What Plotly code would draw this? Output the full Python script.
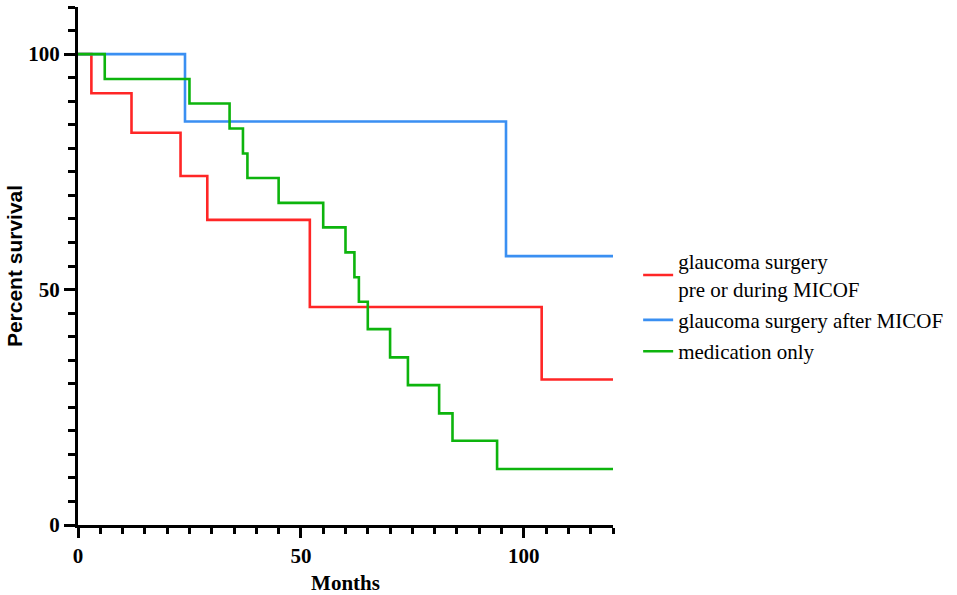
import plotly.graph_objects as go

# Kaplan-Meier step points (month, percent survival)
red_months = [0, 3, 12, 23, 29, 52, 104, 120]
red_surv = [100, 91.7, 83.3, 74.1, 64.8, 46.3, 30.9, 30.9]

blue_months = [0, 24, 96, 120]
blue_surv = [100, 85.7, 57.1, 57.1]

green_months = [0, 6, 25, 34, 37, 38, 45, 55, 60, 62, 63, 65, 70, 74, 81, 84, 94, 120]
green_surv = [100, 94.7, 89.5, 84.2, 78.9, 73.7, 68.4, 63.2, 57.9, 52.6, 47.4,
              41.6, 35.6, 29.7, 23.7, 17.9, 11.9, 11.9]

names = ["glaucoma surgery<br>pre or during MICOF",
         "glaucoma surgery after MICOF",
         "medication only"]
colors = ["#FF2626", "#3A8FF2", "#0DB40D"]

serif = "Liberation Serif, Times New Roman, serif"

fig = go.Figure()
for i, (xs, ys) in enumerate([(red_months, red_surv),
                              (blue_months, blue_surv),
                              (green_months, green_surv)]):
    fig.add_trace(go.Scatter(
        x=xs, y=ys, mode="lines", name=names[i],
        line=dict(color=colors[i], width=2.6, shape="hv"),
        legendgroup="g%d" % i, cliponaxis=False,
    ))

fig.update_xaxes(
    range=[0, 120], tickvals=[0, 50, 100], showline=True, linecolor="black",
    linewidth=3, ticks="outside", ticklen=10, tickwidth=3, tickcolor="black",
    showgrid=False, zeroline=False, automargin=False,
    tickfont=dict(family=serif, size=21, color="black", weight="bold"),
    minor=dict(dtick=5, ticks="outside", ticklen=6, tickwidth=3, tickcolor="black", showgrid=False),
    title=dict(text="<b>Months</b>", font=dict(family=serif, size=21, color="black"), standoff=10),
)
fig.update_yaxes(
    range=[0, 110], tickvals=[0, 50, 100], showline=True, linecolor="black",
    linewidth=3, ticks="outside", ticklen=11, tickwidth=3, tickcolor="black",
    showgrid=False, zeroline=False, automargin=False,
    tickfont=dict(family=serif, size=21, color="black", weight="bold"),
    minor=dict(dtick=5, ticks="outside", ticklen=7, tickwidth=3, tickcolor="black", showgrid=False),
    title=dict(text="<b>Percent survival</b>",
               font=dict(family="Liberation Sans, Arial, sans-serif", size=21, color="black"),
               standoff=0),
)

fig.update_layout(
    width=957, height=595,
    margin=dict(l=78, r=344, t=7, b=70),
    plot_bgcolor="white", paper_bgcolor="white",
    legend=dict(x=1.047, y=0.548, xanchor="left", yanchor="top",
                font=dict(family=serif, size=21, color="black"),
                tracegroupgap=1, bgcolor="rgba(0,0,0,0)"),
)

# drop the page's default 8px body margin so the figure sits at the window corner
fig.write_html("out.html", config={"displayModeBar": False},
               post_script="document.body.style.margin='0';")
